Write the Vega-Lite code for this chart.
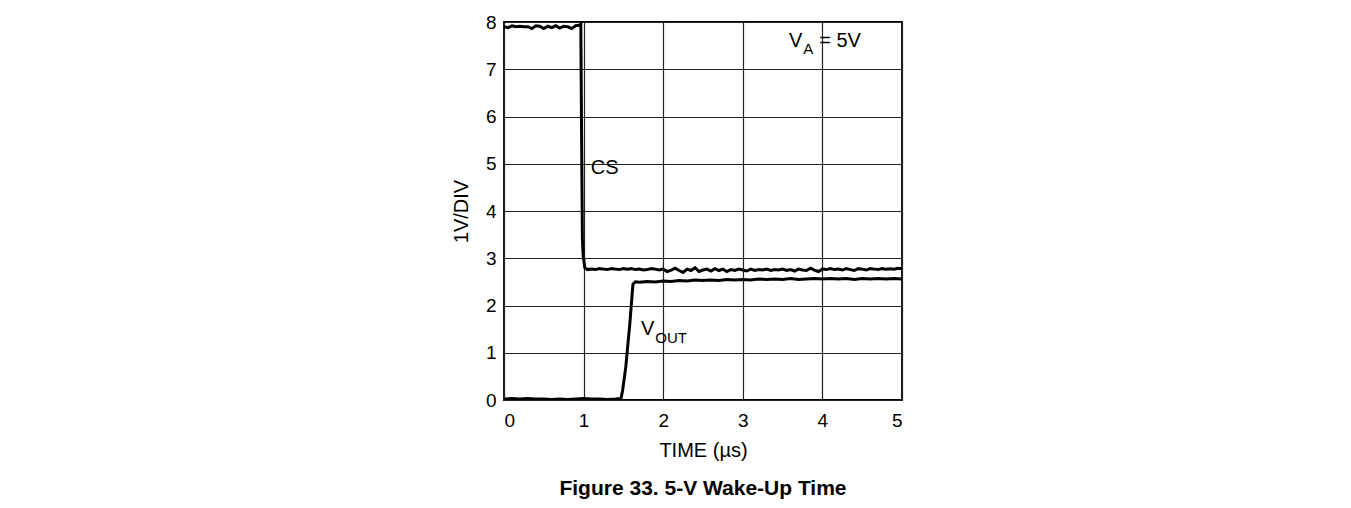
{
  "$schema": "https://vega.github.io/schema/vega-lite/v6.json",
  "width": 398,
  "height": 378,
  "autosize": {"type": "none"},
  "padding": {"left": 504, "top": 22, "right": 449, "bottom": 108},
  "background": "white",
  "config": {
    "font": "Liberation Sans",
    "view": {"stroke": "#000", "strokeWidth": 1.8},
    "axis": {"domain": false, "ticks": false, "grid": true, "gridColor": "#222", "gridWidth": 1.2, "gridOpacity": 1, "labelColor": "#000", "titleColor": "#000", "labelFont": "Liberation Sans", "titleFont": "Liberation Sans", "labelFontSize": 19, "titleFontSize": 20, "titleFontWeight": "normal"}
  },
  "title": {"text": "Figure 33. 5-V Wake-Up Time", "orient": "bottom", "fontSize": 21, "fontWeight": "bold", "font": "Liberation Sans", "color": "#000", "offset": 18, "anchor": "middle"},
  "datasets": {
    "traces": [
      {"series": "CS", "t": 0.0, "v": 7.9}, {"series": "CS", "t": 0.05, "v": 7.88}, {"series": "CS", "t": 0.1, "v": 7.92}, {"series": "CS", "t": 0.15, "v": 7.9}, {"series": "CS", "t": 0.2, "v": 7.91}, {"series": "CS", "t": 0.25, "v": 7.9}, {"series": "CS", "t": 0.3, "v": 7.9}, {"series": "CS", "t": 0.35, "v": 7.86}, {"series": "CS", "t": 0.4, "v": 7.92}, {"series": "CS", "t": 0.45, "v": 7.91}, {"series": "CS", "t": 0.5, "v": 7.86}, {"series": "CS", "t": 0.55, "v": 7.91}, {"series": "CS", "t": 0.6, "v": 7.88}, {"series": "CS", "t": 0.65, "v": 7.92}, {"series": "CS", "t": 0.7, "v": 7.87}, {"series": "CS", "t": 0.75, "v": 7.91}, {"series": "CS", "t": 0.8, "v": 7.9}, {"series": "CS", "t": 0.85, "v": 7.86}, {"series": "CS", "t": 0.9, "v": 7.92}, {"series": "CS", "t": 0.94, "v": 7.93}, {"series": "CS", "t": 0.965, "v": 7.95}, {"series": "CS", "t": 0.975, "v": 5.5}, {"series": "CS", "t": 0.985, "v": 3.4}, {"series": "CS", "t": 0.995, "v": 3.05}, {"series": "CS", "t": 1.015, "v": 2.8}, {"series": "CS", "t": 1.05, "v": 2.76}, {"series": "CS", "t": 1.1, "v": 2.77}, {"series": "CS", "t": 1.15, "v": 2.76}, {"series": "CS", "t": 1.2, "v": 2.78}, {"series": "CS", "t": 1.25, "v": 2.77}, {"series": "CS", "t": 1.3, "v": 2.76}, {"series": "CS", "t": 1.35, "v": 2.78}, {"series": "CS", "t": 1.4, "v": 2.77}, {"series": "CS", "t": 1.45, "v": 2.76}, {"series": "CS", "t": 1.5, "v": 2.78}, {"series": "CS", "t": 1.55, "v": 2.77}, {"series": "CS", "t": 1.6, "v": 2.78}, {"series": "CS", "t": 1.65, "v": 2.76}, {"series": "CS", "t": 1.7, "v": 2.77}, {"series": "CS", "t": 1.75, "v": 2.75}, {"series": "CS", "t": 1.8, "v": 2.76}, {"series": "CS", "t": 1.85, "v": 2.78}, {"series": "CS", "t": 1.9, "v": 2.77}, {"series": "CS", "t": 1.95, "v": 2.75}, {"series": "CS", "t": 2.0, "v": 2.77}, {"series": "CS", "t": 2.05, "v": 2.72}, {"series": "CS", "t": 2.1, "v": 2.75}, {"series": "CS", "t": 2.15, "v": 2.79}, {"series": "CS", "t": 2.2, "v": 2.74}, {"series": "CS", "t": 2.25, "v": 2.7}, {"series": "CS", "t": 2.3, "v": 2.77}, {"series": "CS", "t": 2.35, "v": 2.74}, {"series": "CS", "t": 2.4, "v": 2.8}, {"series": "CS", "t": 2.45, "v": 2.72}, {"series": "CS", "t": 2.5, "v": 2.75}, {"series": "CS", "t": 2.55, "v": 2.77}, {"series": "CS", "t": 2.6, "v": 2.73}, {"series": "CS", "t": 2.65, "v": 2.78}, {"series": "CS", "t": 2.7, "v": 2.74}, {"series": "CS", "t": 2.75, "v": 2.77}, {"series": "CS", "t": 2.8, "v": 2.72}, {"series": "CS", "t": 2.85, "v": 2.76}, {"series": "CS", "t": 2.9, "v": 2.74}, {"series": "CS", "t": 2.95, "v": 2.77}, {"series": "CS", "t": 3.0, "v": 2.75}, {"series": "CS", "t": 3.05, "v": 2.73}, {"series": "CS", "t": 3.1, "v": 2.77}, {"series": "CS", "t": 3.15, "v": 2.74}, {"series": "CS", "t": 3.2, "v": 2.76}, {"series": "CS", "t": 3.25, "v": 2.75}, {"series": "CS", "t": 3.3, "v": 2.77}, {"series": "CS", "t": 3.35, "v": 2.74}, {"series": "CS", "t": 3.4, "v": 2.76}, {"series": "CS", "t": 3.45, "v": 2.75}, {"series": "CS", "t": 3.5, "v": 2.77}, {"series": "CS", "t": 3.55, "v": 2.74}, {"series": "CS", "t": 3.6, "v": 2.76}, {"series": "CS", "t": 3.65, "v": 2.73}, {"series": "CS", "t": 3.7, "v": 2.77}, {"series": "CS", "t": 3.75, "v": 2.75}, {"series": "CS", "t": 3.8, "v": 2.74}, {"series": "CS", "t": 3.85, "v": 2.79}, {"series": "CS", "t": 3.9, "v": 2.75}, {"series": "CS", "t": 3.95, "v": 2.72}, {"series": "CS", "t": 4.0, "v": 2.77}, {"series": "CS", "t": 4.05, "v": 2.76}, {"series": "CS", "t": 4.1, "v": 2.78}, {"series": "CS", "t": 4.15, "v": 2.76}, {"series": "CS", "t": 4.2, "v": 2.77}, {"series": "CS", "t": 4.25, "v": 2.75}, {"series": "CS", "t": 4.3, "v": 2.78}, {"series": "CS", "t": 4.35, "v": 2.76}, {"series": "CS", "t": 4.4, "v": 2.74}, {"series": "CS", "t": 4.45, "v": 2.78}, {"series": "CS", "t": 4.5, "v": 2.77}, {"series": "CS", "t": 4.55, "v": 2.75}, {"series": "CS", "t": 4.6, "v": 2.78}, {"series": "CS", "t": 4.65, "v": 2.77}, {"series": "CS", "t": 4.7, "v": 2.76}, {"series": "CS", "t": 4.75, "v": 2.78}, {"series": "CS", "t": 4.8, "v": 2.77}, {"series": "CS", "t": 4.85, "v": 2.78}, {"series": "CS", "t": 4.9, "v": 2.77}, {"series": "CS", "t": 4.95, "v": 2.79}, {"series": "CS", "t": 5.0, "v": 2.78},
      {"series": "VOUT", "t": 0.0, "v": 0.02}, {"series": "VOUT", "t": 0.1, "v": 0.03}, {"series": "VOUT", "t": 0.2, "v": 0.02}, {"series": "VOUT", "t": 0.3, "v": 0.03}, {"series": "VOUT", "t": 0.4, "v": 0.02}, {"series": "VOUT", "t": 0.5, "v": 0.02}, {"series": "VOUT", "t": 0.6, "v": 0.01}, {"series": "VOUT", "t": 0.7, "v": 0.02}, {"series": "VOUT", "t": 0.8, "v": 0.01}, {"series": "VOUT", "t": 0.9, "v": 0.02}, {"series": "VOUT", "t": 1.0, "v": 0.03}, {"series": "VOUT", "t": 1.1, "v": 0.02}, {"series": "VOUT", "t": 1.2, "v": 0.02}, {"series": "VOUT", "t": 1.3, "v": 0.01}, {"series": "VOUT", "t": 1.4, "v": 0.02}, {"series": "VOUT", "t": 1.47, "v": 0.03}, {"series": "VOUT", "t": 1.49, "v": 0.2}, {"series": "VOUT", "t": 1.53, "v": 0.7}, {"series": "VOUT", "t": 1.58, "v": 1.6}, {"series": "VOUT", "t": 1.62, "v": 2.45}, {"series": "VOUT", "t": 1.65, "v": 2.5}, {"series": "VOUT", "t": 1.7, "v": 2.49}, {"series": "VOUT", "t": 1.8, "v": 2.51}, {"series": "VOUT", "t": 1.9, "v": 2.5}, {"series": "VOUT", "t": 2.0, "v": 2.52}, {"series": "VOUT", "t": 2.1, "v": 2.51}, {"series": "VOUT", "t": 2.2, "v": 2.53}, {"series": "VOUT", "t": 2.3, "v": 2.52}, {"series": "VOUT", "t": 2.4, "v": 2.54}, {"series": "VOUT", "t": 2.5, "v": 2.53}, {"series": "VOUT", "t": 2.6, "v": 2.54}, {"series": "VOUT", "t": 2.7, "v": 2.53}, {"series": "VOUT", "t": 2.8, "v": 2.55}, {"series": "VOUT", "t": 2.9, "v": 2.54}, {"series": "VOUT", "t": 3.0, "v": 2.55}, {"series": "VOUT", "t": 3.1, "v": 2.54}, {"series": "VOUT", "t": 3.2, "v": 2.56}, {"series": "VOUT", "t": 3.3, "v": 2.55}, {"series": "VOUT", "t": 3.4, "v": 2.56}, {"series": "VOUT", "t": 3.5, "v": 2.55}, {"series": "VOUT", "t": 3.6, "v": 2.57}, {"series": "VOUT", "t": 3.7, "v": 2.55}, {"series": "VOUT", "t": 3.8, "v": 2.56}, {"series": "VOUT", "t": 3.9, "v": 2.57}, {"series": "VOUT", "t": 4.0, "v": 2.56}, {"series": "VOUT", "t": 4.1, "v": 2.57}, {"series": "VOUT", "t": 4.2, "v": 2.56}, {"series": "VOUT", "t": 4.3, "v": 2.57}, {"series": "VOUT", "t": 4.4, "v": 2.55}, {"series": "VOUT", "t": 4.5, "v": 2.57}, {"series": "VOUT", "t": 4.6, "v": 2.56}, {"series": "VOUT", "t": 4.7, "v": 2.57}, {"series": "VOUT", "t": 4.8, "v": 2.56}, {"series": "VOUT", "t": 4.9, "v": 2.57}, {"series": "VOUT", "t": 5.0, "v": 2.56}
    ],
    "mainLabels": [
      {"t": 1.09, "v": 4.91, "label": "CS"},
      {"t": 1.72, "v": 1.5, "label": "V"},
      {"t": 3.58, "v": 7.6, "label": "V"},
      {"t": 3.96, "v": 7.6, "label": "= 5V"}
    ],
    "subLabels": [
      {"t": 1.9, "v": 1.31, "label": "OUT"},
      {"t": 3.76, "v": 7.42, "label": "A"}
    ]
  },
  "encoding": {
    "x": {"field": "t", "type": "quantitative", "scale": {"domain": [0, 5], "nice": false, "zero": false}, "axis": {"values": [0, 1, 2, 3, 4, 5], "labelFontSize": 19, "labelPadding": 11, "title": "TIME (µs)", "titleFontSize": 20, "titlePadding": 10}},
    "y": {"field": "v", "type": "quantitative", "scale": {"domain": [0, 8], "nice": false}, "axis": {"values": [0, 1, 2, 3, 4, 5, 6, 7, 8], "labelFontSize": 19, "labelPadding": 8, "title": "1V/DIV", "titleFontSize": 20, "titlePadding": 14}}
  },
  "layer": [
    {
      "data": {"name": "traces"},
      "mark": {"type": "line", "color": "#000", "strokeWidth": 3, "clip": true},
      "encoding": {"detail": {"field": "series", "type": "nominal"}, "order": {"field": "t", "type": "quantitative"}}
    },
    {
      "data": {"name": "mainLabels"},
      "mark": {"type": "text", "align": "left", "baseline": "middle", "fontSize": 20, "color": "#000", "font": "Liberation Sans"},
      "encoding": {"text": {"field": "label"}}
    },
    {
      "data": {"name": "subLabels"},
      "mark": {"type": "text", "align": "left", "baseline": "middle", "fontSize": 15, "color": "#000", "font": "Liberation Sans"},
      "encoding": {"text": {"field": "label"}}
    }
  ]
}
